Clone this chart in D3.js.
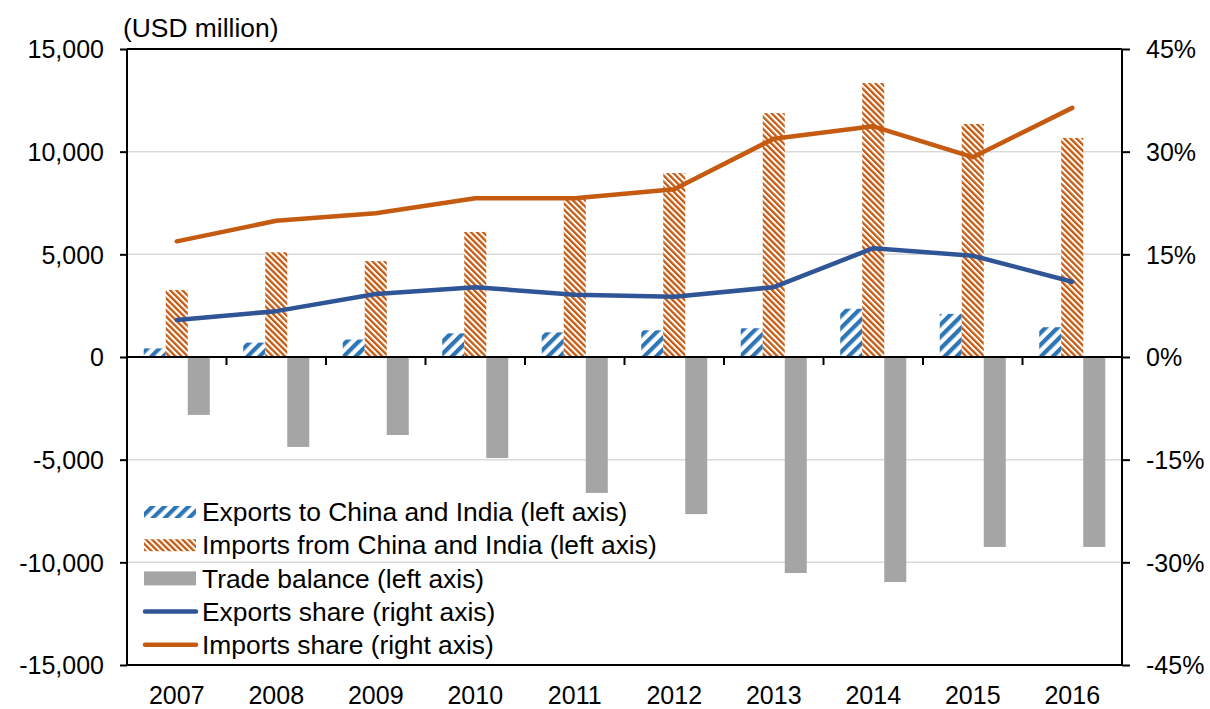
<!DOCTYPE html>
<html>
<head>
<meta charset="utf-8">
<script src="https://cdn.jsdelivr.net/npm/d3@7"></script>
<style>
  html, body { margin: 0; padding: 0; background: #fff; }
  svg text { font-family: Arial, "Liberation Sans", sans-serif; fill: #000; }
</style>
</head>
<body>
<div id="chart"></div>
<script>
const years = ["2007", "2008", "2009", "2010", "2011", "2012", "2013", "2014", "2015", "2016"]
const exportsValues = [420, 700, 850, 1150, 1200, 1300, 1400, 2350, 2100, 1450]
const importsValues = [3260, 5100, 4670, 6090, 7800, 8960, 11880, 13340, 11350, 10670]
const balanceValues = [-2820, -4380, -3800, -4920, -6620, -7650, -10520, -10960, -9250, -9250]
const exportsShare = [5.4, 6.7, 9.2, 10.2, 9.1, 8.8, 10.2, 15.9, 14.8, 11.0]
const importsShare = [16.9, 19.9, 21.0, 23.2, 23.2, 24.5, 31.9, 33.7, 29.2, 36.4]
const leftTicks = [-15000, -10000, -5000, 0, 5000, 10000, 15000]
const rightTicks = [-45, -30, -15, 0, 15, 30, 45]
const legendItems = [
  {key: "exports", label: "Exports to China and India (left axis)"},
  {key: "imports", label: "Imports from China and India (left axis)"},
  {key: "balance", label: "Trade balance (left axis)"},
  {key: "exShare", label: "Exports share (right axis)"},
  {key: "imShare", label: "Imports share (right axis)"}
]

const width = 1210
const height = 709
const margin = ({top: 49, right: 88, bottom: 44, left: 127})
const tickFont = 25
const labelFont = 26.4

const colors = {
  exports: "#2E75B6",
  imports: "#C55A11",
  balance: "#A5A5A5",
  exShare: "#2F5597",
  imShare: "#C55A11"
}

const svg = d3.select("#chart").append("svg")
  .attr("width", width)
  .attr("height", height)
  .attr("viewBox", [0, 0, width, height])

// hatch patterns
const defs = svg.append("defs")

const hatch = (id, color, size, stripe, angle) => {
  const p = defs.append("pattern")
    .attr("id", id)
    .attr("patternUnits", "userSpaceOnUse")
    .attr("width", size)
    .attr("height", size)
    .attr("patternTransform", `rotate(${angle})`)
  p.append("rect").attr("width", size).attr("height", size).attr("fill", "#fff")
  p.append("rect").attr("width", stripe).attr("height", size).attr("fill", color)
}
hatch("hatchExports", colors.exports, 8.5, 4.2, 45)
hatch("hatchImports", colors.imports, 4.3, 2.3, -45)

const fills = {
  exports: "url(#hatchExports)",
  imports: "url(#hatchImports)",
  balance: colors.balance
}

const x = d3.scaleBand()
  .domain(years)
  .range([margin.left, width - margin.right])

const xs = d3.scaleBand()
  .domain(["exports", "imports", "balance"])
  .range([0, x.bandwidth()])
  .paddingOuter(0.76)

const y = d3.scaleLinear()
  .domain([-15000, 15000])
  .range([height - margin.bottom, margin.top])

const yr = d3.scaleLinear()
  .domain([-45, 45])
  .range([height - margin.bottom, margin.top])

// hyphen minus like the original, not the unicode minus
const fmtLeft = d => (d < 0 ? "-" : "") + d3.format(",")(Math.abs(d))
const fmtRight = d => (d < 0 ? "-" : "") + Math.abs(d) + "%"

// gridlines
svg.append("g")
  .selectAll("line")
  .data(leftTicks.filter(d => d !== 0 && Math.abs(d) !== 15000))
  .join("line")
    .attr("x1", margin.left).attr("x2", width - margin.right)
    .attr("y1", d => y(d)).attr("y2", d => y(d))
    .attr("stroke", "#D9D9D9")
    .attr("stroke-width", 1.5)

// bars
const barData = years.flatMap((yr0, i) => [
  {year: yr0, key: "exports", value: exportsValues[i]},
  {year: yr0, key: "imports", value: importsValues[i]},
  {year: yr0, key: "balance", value: balanceValues[i]}
])

svg.append("g")
  .selectAll("rect")
  .data(barData)
  .join("rect")
    .attr("x", d => x(d.year) + xs(d.key))
    .attr("width", xs.bandwidth())
    .attr("y", d => y(Math.max(0, d.value)))
    .attr("height", d => Math.abs(y(d.value) - y(0)))
    .attr("fill", d => fills[d.key])

// frame
const frame = svg.append("g").attr("stroke", "#000").attr("stroke-width", 2)
frame.append("line")
  .attr("x1", margin.left).attr("x2", width - margin.right)
  .attr("y1", y(15000)).attr("y2", y(15000))
frame.append("line")
  .attr("x1", margin.left).attr("x2", width - margin.right)
  .attr("y1", y(-15000)).attr("y2", y(-15000))

// left axis
svg.append("g")
  .attr("transform", `translate(${margin.left},0)`)
  .call(d3.axisLeft(y).tickValues(leftTicks).tickFormat(fmtLeft).tickSize(7).tickPadding(16))
  .call(g => g.selectAll("line, path").attr("stroke", "#000").attr("stroke-width", 2))
  .call(g => g.select(".domain").attr("d", `M0,${y(15000)}V${y(-15000)}`))
  .call(g => g.selectAll("text").attr("font-size", tickFont).attr("dy", "0.35em"))
  .attr("font-family", null)

// right axis
svg.append("g")
  .attr("transform", `translate(${width - margin.right},0)`)
  .call(d3.axisRight(yr).tickValues(rightTicks).tickFormat(fmtRight).tickSize(8).tickPadding(16))
  .call(g => g.selectAll("line, path").attr("stroke", "#000").attr("stroke-width", 2))
  .call(g => g.select(".domain").attr("d", `M0,${yr(45)}V${yr(-45)}`))
  .call(g => g.selectAll("text").attr("font-size", tickFont).attr("dy", "0.35em"))
  .attr("font-family", null)

// zero axis with category ticks
const zeroAxis = svg.append("g").attr("stroke", "#000").attr("stroke-width", 2)
zeroAxis.append("line")
  .attr("x1", margin.left).attr("x2", width - margin.right)
  .attr("y1", y(0)).attr("y2", y(0))
zeroAxis.selectAll("line.tick")
  .data(years.slice(1))
  .join("line")
    .attr("class", "tick")
    .attr("x1", d => x(d)).attr("x2", d => x(d))
    .attr("y1", y(0)).attr("y2", y(0) + 8)

// year labels
svg.append("g")
  .selectAll("text")
  .data(years)
  .join("text")
    .attr("x", d => x(d) + x.bandwidth() / 2)
    .attr("y", 704)
    .attr("text-anchor", "middle")
    .attr("font-size", tickFont)
    .text(d => d)

// share lines
const cx = d => x(d) + x.bandwidth() / 2

const line = d3.line()
  .x((d, i) => cx(years[i]))
  .y(d => yr(d))

svg.append("path")
  .datum(exportsShare)
  .attr("fill", "none")
  .attr("stroke", colors.exShare)
  .attr("stroke-width", 4.5)
  .attr("stroke-linecap", "round")
  .attr("stroke-linejoin", "round")
  .attr("d", line)

svg.append("path")
  .datum(importsShare)
  .attr("fill", "none")
  .attr("stroke", colors.imShare)
  .attr("stroke-width", 4.5)
  .attr("stroke-linecap", "round")
  .attr("stroke-linejoin", "round")
  .attr("d", line)

// unit label
svg.append("text")
  .attr("x", 123)
  .attr("y", 37)
  .attr("font-size", labelFont)
  .text("(USD million)")

// legend
const legend = svg.append("g").attr("transform", "translate(144,512)")
const row = legend.selectAll("g")
  .data(legendItems)
  .join("g")
    .attr("transform", (d, i) => `translate(0,${i * 33.2})`)

row.each(function(d) {
  const g = d3.select(this)
  if (d.key === "exShare" || d.key === "imShare") {
    g.append("line")
      .attr("x1", 1).attr("x2", 52)
      .attr("stroke", colors[d.key])
      .attr("stroke-width", 4.5)
      .attr("stroke-linecap", "round")
  } else {
    const h = d.key === "balance" ? 14 : 12
    g.append("rect")
      .attr("x", 0).attr("y", -h / 2)
      .attr("width", 52).attr("height", h)
      .attr("fill", fills[d.key])
  }
})

row.append("text")
  .attr("x", 58)
  .attr("dy", "0.35em")
  .attr("font-size", labelFont)
  .text(d => d.label)
</script>
</body>
</html>
